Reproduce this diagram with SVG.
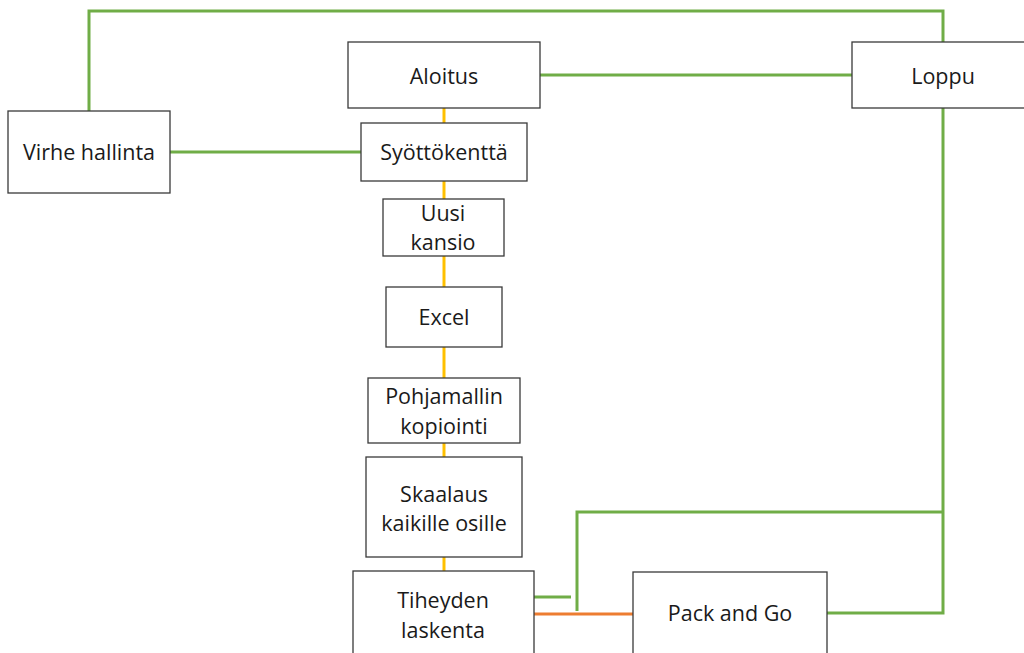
<svg xmlns="http://www.w3.org/2000/svg" width="1024" height="653" viewBox="0 0 1024 653">
<style>
.box{fill:#fff;stroke:#3a3a3a;stroke-width:1.3}
.t{font-family:"Open Sans","Liberation Sans",sans-serif;font-size:21.5px;fill:#1a1a1a;text-anchor:middle}
.g{stroke:#70AD47;stroke-width:3;fill:none}
.y{stroke:#FFC000;stroke-width:3;fill:none}
.o{stroke:#ED7D31;stroke-width:3;fill:none}
</style>
<rect width="1024" height="653" fill="#fff"/>
<g id="connectors">
<polyline class="g" points="89,111 89,11 943,11 943,42"/>
<line class="g" x1="540" y1="75" x2="852" y2="75"/>
<line class="g" x1="170" y1="152" x2="361" y2="152"/>
<polyline class="g" points="943,108 943,613 827,613"/>
<polyline class="g" points="943,512 577,512 577,611"/>
<line class="g" x1="528" y1="597" x2="571" y2="597"/>
<line class="o" x1="534" y1="614" x2="633" y2="614"/>
<line class="y" x1="444" y1="108" x2="444" y2="123"/>
<line class="y" x1="444" y1="181" x2="444" y2="199"/>
<line class="y" x1="444" y1="256" x2="444" y2="287"/>
<line class="y" x1="444" y1="347" x2="444" y2="378"/>
<line class="y" x1="444" y1="443" x2="444" y2="457"/>
<line class="y" x1="444" y1="557" x2="444" y2="571"/>
</g>
<g id="aloitus"><rect class="box" x="348" y="42" width="192" height="66"/><text class="t" x="444" y="84">Aloitus</text></g>
<g id="loppu"><rect class="box" x="852" y="42" width="180" height="66"/><text class="t" x="943" y="84">Loppu</text></g>
<g id="virhe"><rect class="box" x="8" y="111" width="162" height="82"/><text class="t" x="89" y="160">Virhe hallinta</text></g>
<g id="syotto"><rect class="box" x="361" y="123" width="166" height="58"/><text class="t" x="444" y="160">Syöttökenttä</text></g>
<g id="uusi"><rect class="box" x="383" y="199" width="121" height="57"/><text class="t" x="443" y="221">Uusi</text><text class="t" x="443" y="250">kansio</text></g>
<g id="excel"><rect class="box" x="386" y="287" width="116" height="60"/><text class="t" x="444" y="325">Excel</text></g>
<g id="pohja"><rect class="box" x="368" y="378" width="152" height="65"/><text class="t" x="444" y="404">Pohjamallin</text><text class="t" x="444" y="434">kopiointi</text></g>
<g id="skaalaus"><rect class="box" x="366" y="457" width="156" height="100"/><text class="t" x="444" y="502">Skaalaus</text><text class="t" x="444" y="531">kaikille osille</text></g>
<g id="tiheys"><rect class="box" x="353" y="571" width="181" height="90"/><text class="t" x="443" y="608">Tiheyden</text><text class="t" x="443" y="638">laskenta</text></g>
<g id="pack"><rect class="box" x="633" y="572" width="194" height="90"/><text class="t" x="730" y="621">Pack and Go</text></g>
</svg>
